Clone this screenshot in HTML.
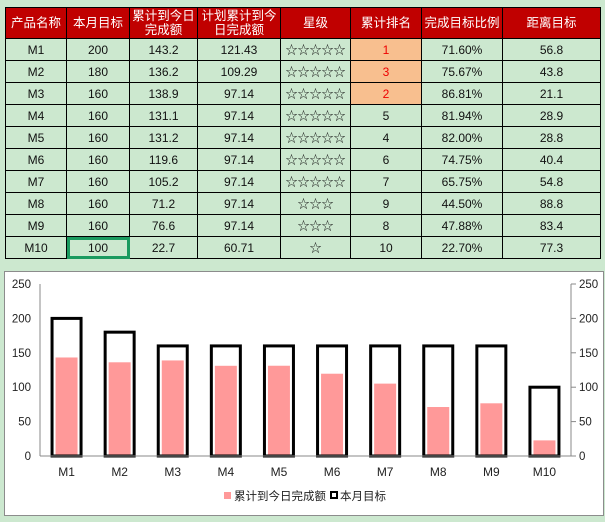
<!DOCTYPE html>
<html><head><meta charset="utf-8"><style>
body{margin:0;width:605px;height:522px;background:#cce8cf;font-family:"Liberation Sans","Noto Sans CJK SC",sans-serif;position:relative;overflow:hidden}
table{position:absolute;left:5px;top:7px;border-collapse:collapse;table-layout:fixed;font-size:12px}
td,th{border:1px solid #000;text-align:center;padding:0;overflow:hidden;white-space:nowrap}
th{background:#c00000;color:#fff;font-weight:normal;height:30px;line-height:14px;white-space:normal;font-size:12.5px}
td{height:21px;color:#111}
td.rk{background:#f8bf8f;color:#e00}
td.sel{outline:3px solid #1a9a5f;outline-offset:-3px}
#chart{position:absolute;left:4px;top:271px;width:600px;height:245px;background:#fff;border:1px solid #8c8c8c;box-sizing:border-box}
</style></head><body>
<table>
<colgroup><col style="width:61px"><col style="width:63px"><col style="width:68px"><col style="width:83px"><col style="width:70px"><col style="width:71px"><col style="width:81px"><col style="width:98px"></colgroup>
<tr><th>产品名称</th><th>本月目标</th><th>累计到今日完成额</th><th>计划累计到今日完成额</th><th>星级</th><th>累计排名</th><th>完成目标比例</th><th>距离目标</th></tr>
<tr><td>M1</td><td>200</td><td>143.2</td><td>121.43</td><td>☆☆☆☆☆</td><td class="rk">1</td><td>71.60%</td><td>56.8</td></tr>
<tr><td>M2</td><td>180</td><td>136.2</td><td>109.29</td><td>☆☆☆☆☆</td><td class="rk">3</td><td>75.67%</td><td>43.8</td></tr>
<tr><td>M3</td><td>160</td><td>138.9</td><td>97.14</td><td>☆☆☆☆☆</td><td class="rk">2</td><td>86.81%</td><td>21.1</td></tr>
<tr><td>M4</td><td>160</td><td>131.1</td><td>97.14</td><td>☆☆☆☆☆</td><td>5</td><td>81.94%</td><td>28.9</td></tr>
<tr><td>M5</td><td>160</td><td>131.2</td><td>97.14</td><td>☆☆☆☆☆</td><td>4</td><td>82.00%</td><td>28.8</td></tr>
<tr><td>M6</td><td>160</td><td>119.6</td><td>97.14</td><td>☆☆☆☆☆</td><td>6</td><td>74.75%</td><td>40.4</td></tr>
<tr><td>M7</td><td>160</td><td>105.2</td><td>97.14</td><td>☆☆☆☆☆</td><td>7</td><td>65.75%</td><td>54.8</td></tr>
<tr><td>M8</td><td>160</td><td>71.2</td><td>97.14</td><td>☆☆☆</td><td>9</td><td>44.50%</td><td>88.8</td></tr>
<tr><td>M9</td><td>160</td><td>76.6</td><td>97.14</td><td>☆☆☆</td><td>8</td><td>47.88%</td><td>83.4</td></tr>
<tr><td>M10</td><td class="sel">100</td><td>22.7</td><td>60.71</td><td>☆</td><td>10</td><td>22.70%</td><td>77.3</td></tr>
</table>
<div id="chart">
<svg id="svg" width="600" height="245" style="position:absolute;left:-5px;top:-272px;overflow:visible" font-family="Liberation Sans, Noto Sans CJK SC, sans-serif"></svg>
</div>
<script>
const categories=["M1","M2","M3","M4","M5","M6","M7","M8","M9","M10"];
const actualValues=[143.2,136.2,138.9,131.1,131.2,119.6,105.2,71.2,76.6,22.7];
const targetValues=[200,180,160,160,160,160,160,160,160,100];
const tickValues=[0,50,100,150,200,250];
const NS="http://www.w3.org/2000/svg";
const svg=document.getElementById('svg');
svg.style.left='-5px';svg.style.top='-272px';svg.setAttribute('width','605');svg.setAttribute('height','522');
const L=40,R=571,Y0=456,Y1=284,MAX=250;
const y=v=>Y0-(v/MAX)*(Y0-Y1);
const band=(R-L)/categories.length;
const xc=i=>L+band*(i+0.5);
function el(t,a){const e=document.createElementNS(NS,t);for(const k in a)e.setAttribute(k,a[k]);svg.appendChild(e);return e;}
tickValues.forEach(v=>{
 let t=el('text',{x:L-9,y:y(v)+4,'text-anchor':'end','font-size':'11.5',fill:'#222'});t.textContent=v;
 
 
 let t2=el('text',{x:R+8,y:y(v)+4,'font-size':'11.5',fill:'#222'});t2.textContent=v;
 
 
 el('line',{x1:R,x2:R+5,y1:y(v),y2:y(v),stroke:'#888'});
});
let la=el('line',{x1:L,x2:L,y1:Y1,y2:Y0,stroke:'#888'});


let ra=el('line',{x1:R,x2:R,y1:Y1,y2:Y0,stroke:'#888'});


categories.forEach((c,i)=>{
 let b=el('rect',{x:xc(i)-11,y:y(actualValues[i]),width:22,height:Y0-y(actualValues[i]),fill:'#ff9999'});
 
 
 let o=el('rect',{x:xc(i)-14.5,y:y(targetValues[i]),width:29,height:Y0-y(targetValues[i]),fill:'none',stroke:'#000','stroke-width':3});
 
 
 let t=el('text',{x:xc(i),y:476,'text-anchor':'middle','font-size':'12',fill:'#222'});t.textContent=c;
 
 
});
let xa=el('line',{x1:L,x2:R,y1:Y0,y2:Y0,stroke:'#888'});


let l1=el('rect',{x:224,y:492,width:7,height:7,fill:'#ff9999'});


let lt1=el('text',{x:234,y:500,'font-size':'11.5',fill:'#222'});lt1.textContent='累计到今日完成额';


let l2=el('rect',{x:331,y:492,width:6,height:6,fill:'none',stroke:'#000','stroke-width':2});


let lt2=el('text',{x:340,y:500,'font-size':'11.5',fill:'#222'});lt2.textContent='本月目标';


</script>
</body></html>
